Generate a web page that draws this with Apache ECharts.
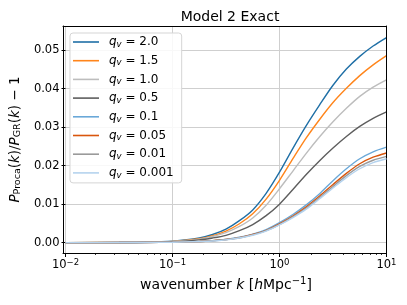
<!DOCTYPE html>
<html>
<head>
<meta charset="utf-8">
<script src="https://cdn.jsdelivr.net/npm/echarts@6/dist/echarts.min.js"></script>
<style>html,body{margin:0;padding:0;background:#fff}#c{width:407px;height:305px}</style>
</head>
<body>
<div id="c"></div>
<script>
// wavenumbers k (h/Mpc), roughly 1/8-decade steps through the transition
var kValues = [0.01, 0.0316, 0.0562, 0.1, 0.178, 0.237, 0.316, 0.422, 0.562, 0.750, 1, 1.334, 1.778, 2.371, 3.162, 4.217, 5.623, 7.499, 10];
var seriesNames = ['2.0', '1.5', '1.0', '0.5', '0.1', '0.05', '0.01', '0.001'];
var q2_0   = [0, 0.00003, 0.0001, 0.0004, 0.0012, 0.0021, 0.0035, 0.0057, 0.0085, 0.0128, 0.0183, 0.0245, 0.0304, 0.0358, 0.0409, 0.0451, 0.0484, 0.0511, 0.0533];
var q1_5   = [0, 0.00003, 0.0001, 0.0003, 0.0010, 0.0018, 0.0030, 0.0049, 0.0075, 0.0113, 0.0162, 0.0218, 0.0272, 0.0320, 0.0364, 0.0401, 0.0434, 0.0462, 0.0486];
var q1_0   = [0, 0.00002, 0.0001, 0.0003, 0.0009, 0.0016, 0.0026, 0.0042, 0.0064, 0.0097, 0.0140, 0.0186, 0.0232, 0.0275, 0.0314, 0.0349, 0.0380, 0.0404, 0.0423];
var q0_5   = [0, 0.00002, 0.00006, 0.0002, 0.0007, 0.0012, 0.0019, 0.0031, 0.0047, 0.0070, 0.0100, 0.0138, 0.0177, 0.0213, 0.0246, 0.0276, 0.0302, 0.0323, 0.0340];
var q0_1   = [0, 0.00001, 0.00003, 0.0001, 0.0003, 0.0005, 0.0008, 0.0014, 0.0022, 0.0034, 0.0052, 0.0073, 0.0098, 0.0127, 0.0161, 0.0192, 0.0218, 0.0236, 0.0248];
var q0_05  = [0, 0.00001, 0.00003, 0.0001, 0.0003, 0.0005, 0.0008, 0.0013, 0.0021, 0.0032, 0.0049, 0.0069, 0.0093, 0.0121, 0.0151, 0.0180, 0.0205, 0.0222, 0.0233];
var q0_01  = [0, 0.00001, 0.00003, 0.0001, 0.0003, 0.0005, 0.0008, 0.0012, 0.0020, 0.0031, 0.0047, 0.0067, 0.0090, 0.0117, 0.0146, 0.0174, 0.0198, 0.0214, 0.0224];
var q0_001 = [0, 0.00001, 0.00003, 0.0001, 0.0003, 0.0004, 0.0007, 0.0012, 0.0019, 0.0030, 0.0046, 0.0065, 0.0087, 0.0114, 0.0142, 0.0169, 0.0192, 0.0208, 0.0218];
var seriesValues = [q2_0, q1_5, q1_0, q0_5, q0_1, q0_05, q0_01, q0_001];
var colors = ['#1f6fa6', '#ff851b', '#bdbdbd', '#5e5e5e', '#6aa8d8', '#d9560d', '#9a9a9a', '#b5d3ee'];
var yTicks = [0, 0.01, 0.02, 0.03, 0.04, 0.05];
var xMinor = [0.02,0.03,0.04,0.05,0.06,0.07,0.08,0.09,0.2,0.3,0.4,0.5,0.6,0.7,0.8,0.9,2,3,4,5,6,7,8,9];

var FONT = 'DejaVu Sans';
var chart = echarts.init(document.getElementById('c'), null, {renderer: 'canvas'});

var series = seriesNames.map(function (n, i) {
  return {
    name: 'q' + n,
    type: 'line',
    xAxisIndex: 0, yAxisIndex: 0,
    smooth: 0.3,
    showSymbol: false,
    symbol: 'none',
    lineStyle: {width: 1.4, color: colors[i]},
    itemStyle: {color: colors[i]},
    z: 3 + i,
    data: kValues.map(function (k, j) { return [k, seriesValues[i][j]]; })
  };
});

var gridBox = {left: 63, right: 20.5, top: 26, bottom: 52};
var yMin = -0.0027, yMax = 0.0563;

function borderX(pos, extra) {
  return Object.assign({
    type: 'log', logBase: 10, min: 0.01, max: 10, gridIndex: 1, position: pos, z: 10,
    axisLine: {show: true, onZero: false, lineStyle: {color: '#000', width: 1}},
    axisTick: {show: false}, axisLabel: {show: false}, splitLine: {show: false}
  }, extra || {});
}
function borderY(pos) {
  return {
    type: 'value', min: yMin, max: yMax, gridIndex: 1, position: pos, z: 10,
    axisLine: {show: true, onZero: false, lineStyle: {color: '#000', width: 1}},
    axisTick: {show: false}, axisLabel: {show: false}, splitLine: {show: false}
  };
}

chart.setOption({
  animation: false,
  title: {
    text: 'Model 2 Exact',
    left: 225, top: 5, textAlign: 'center',
    textStyle: {fontFamily: FONT, fontSize: 14, fontWeight: 'normal', color: '#000'}
  },
  grid: [
    Object.assign({show: false}, gridBox),
    Object.assign({show: false}, gridBox)
  ],
  legend: {
    orient: 'vertical', left: 70, top: 33,
    padding: [2, 8, 3, 3],
    itemWidth: 26, itemHeight: 1.6, itemGap: 4.7,
    icon: 'rect',
    backgroundColor: 'rgba(255,255,255,0.85)',
    borderColor: '#d5d5d5', borderWidth: 1, borderRadius: 3,
    data: series.map(function (s) { return s.name; }),
    formatter: function (name) { return '{q|q}{v|v}{t| = ' + name.slice(1) + '}'; },
    textStyle: {
      fontFamily: FONT, fontSize: 12, color: '#000', lineHeight: 14,
      rich: {
        q: {fontFamily: FONT, fontStyle: 'italic', fontSize: 12, padding: [0, 0, 0, 5]},
        v: {fontFamily: FONT, fontStyle: 'italic', fontSize: 8.5, padding: [5, 0, 0, 0]},
        t: {fontFamily: FONT, fontSize: 12}
      }
    }
  },
  xAxis: [{
    type: 'log', logBase: 10, min: 0.01, max: 10, gridIndex: 0,
    name: '{a|wavenumber }{i|k}{a| [}{i|h}{a|Mpc}{s|−1}{a|]}',
    nameLocation: 'middle', nameGap: 20,
    nameTextStyle: {
      fontFamily: FONT, fontSize: 14, color: '#000',
      rich: {
        a: {fontFamily: FONT, fontSize: 14, color: '#000'},
        i: {fontFamily: FONT, fontSize: 14, fontStyle: 'italic', color: '#000'},
        s: {fontFamily: FONT, fontSize: 10, color: '#000', padding: [0, 0, 7, 0]}
      }
    },
    axisLine: {show: false, onZero: false},
    axisTick: {show: true, inside: false, length: 4, lineStyle: {color: '#000', width: 1}},
    axisLabel: {
      show: true, margin: 5,
      formatter: function (v) {
        var key = Math.round(Math.log10(v));
        var e = key < 0 ? '−' + (-key) : String(key);
        return '{b|10}{e|' + e + '}';
      },
      rich: {
        b: {fontFamily: FONT, fontSize: 11.5, color: '#000'},
        e: {fontFamily: FONT, fontSize: 8.5, color: '#000', padding: [0, 0, 6, 0]}
      }
    },
    splitLine: {show: true, lineStyle: {color: '#cfcfcf', width: 1}}
  },
  borderX('bottom', {
    axisTick: {show: true, length: 2, customValues: xMinor, lineStyle: {color: '#000', width: 0.8}}
  }),
  borderX('top')
  ],
  yAxis: [{
    type: 'value', min: yMin, max: yMax, gridIndex: 0,
    name: '{i|P}{s|Proca}{a|(}{i|k}{a|)/}{i|P}{s|GR}{a|(}{i|k}{a|) − 1}',
    nameLocation: 'middle', nameGap: 36, nameRotate: 90,
    nameTextStyle: {
      fontFamily: FONT, fontSize: 13.5, color: '#000',
      rich: {
        a: {fontFamily: FONT, fontSize: 13.5, color: '#000'},
        i: {fontFamily: FONT, fontSize: 13.5, fontStyle: 'italic', color: '#000'},
        s: {fontFamily: FONT, fontSize: 9.5, color: '#000', padding: [6, 0, 0, 0]}
      }
    },
    axisLine: {show: false, onZero: false},
    axisTick: {show: true, length: 4, customValues: yTicks, lineStyle: {color: '#000', width: 1}},
    axisLabel: {
      show: true, margin: 6, customValues: yTicks,
      fontFamily: FONT, fontSize: 11.5, color: '#000',
      formatter: function (v) { return v.toFixed(2); }
    },
    splitLine: {show: true, lineStyle: {color: '#cfcfcf', width: 1}}
  },
  borderY('left'),
  borderY('right')
  ],
  series: series
});
</script>
</body>
</html>
